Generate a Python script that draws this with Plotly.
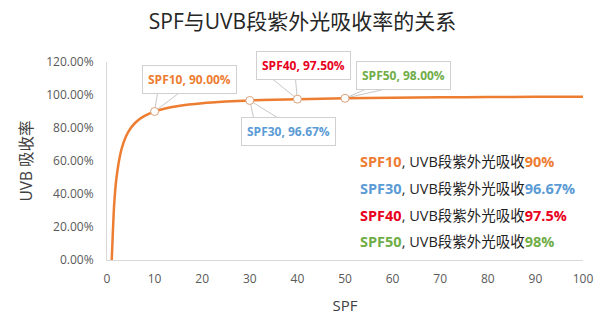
import plotly.graph_objects as go

# SPF values and the matching UVB absorption (%)
spf = [1, 1.5, 2, 3, 4, 5, 6, 7, 8, 9, 10, 12, 15, 20, 25, 30, 35, 40, 50, 60, 70, 80, 90, 100]
absorb = [0, 33.33, 50, 66.67, 75, 80, 83.33, 85.71, 87.5, 88.89, 90, 91.67, 93.33, 95,
          96, 96.67, 97.14, 97.5, 98, 98.33, 98.57, 98.75, 98.89, 99]

# highlighted points
hl_spf = [10, 30, 40, 50]
hl_val = [90.00, 96.67, 97.50, 98.00]
hl_colors = ["#ED7D31", "#5B9BD5", "#E8001C", "#70AD47"]
summary_val = ["90%", "96.67%", "97.5%", "98%"]

x_ticks = list(range(0, 101, 10))
y_ticks = [0, 20, 40, 60, 80, 100, 120]
y_tick_text = ["0.00%", "20.00%", "40.00%", "60.00%", "80.00%", "100.00%", "120.00%"]

FONT = "Open Sans, Noto Sans CJK SC"
LINE = "#ED7D31"

W, H = 605, 324
ML, MR, MT, MB = 107, 19, 62, 62
PW, PH = W - ML - MR, H - MT - MB

fig = go.Figure()
fig.add_trace(go.Scatter(
    x=spf, y=absorb, mode="lines",
    line=dict(color=LINE, width=2.5, shape="spline", smoothing=0.6),
    hoverinfo="skip", showlegend=False,
))
fig.add_trace(go.Scatter(
    x=hl_spf, y=hl_val, mode="markers",
    marker=dict(size=8, color="white", line=dict(color="#D9A27C", width=1)),
    showlegend=False,
))

# callout box offsets (pixels, y up) and the wedge pointing back to each point
box_shift = [(35, 32), (39, -31), (6, 34), (58, 23)]
wedges = [
    [(3, 19), (25, 19)],
    [(4, -18), (29, -18)],
    [(-2, 21), (-26, 21)],
    [(25, 11), (48, 11)],
]

for i, (sx, val) in enumerate(zip(hl_spf, hl_val)):
    (p1, p2) = wedges[i]
    fig.add_shape(
        type="path", xref="x", yref="y",
        xsizemode="pixel", ysizemode="pixel",
        xanchor=sx, yanchor=val,
        path=f"M 0 0 L {p1[0]} {p1[1]} L {p2[0]} {p2[1]} Z",
        line=dict(color="#C8C8C8", width=1), fillcolor="white", layer="below",
    )
    fig.add_annotation(
        x=sx, y=val, xref="x", yref="y", showarrow=False,
        xshift=box_shift[i][0], yshift=box_shift[i][1],
        text=f"<b>SPF{sx}, {val:.2f}%</b>",
        font=dict(family=FONT, size=12, color=hl_colors[i]),
        bgcolor="white", bordercolor="#D0D0D0", borderwidth=1, borderpad=5,
    )

# summary text block (pixel rows converted to plot-area fractions)
row_y = [162, 190, 217, 243]
for i, sx in enumerate(hl_spf):
    c = hl_colors[i]
    fig.add_annotation(
        x=(360 - ML) / PW, y=(H - MB - row_y[i]) / PH, xref="paper", yref="paper",
        xanchor="left", yanchor="middle", showarrow=False,
        text=(f"<b><span style='color:{c}'>SPF{sx}</span></b>"
              f"<span style='color:#1F1F1F'>, UVB段紫外光吸收</span>"
              f"<b><span style='color:{c}'>{summary_val[i]}</span></b>"),
        font=dict(family=FONT, size=14.5),
    )

fig.update_layout(
    width=W, height=H,
    margin=dict(l=ML, r=MR, t=MT, b=MB),
    paper_bgcolor="white", plot_bgcolor="white",
    font=dict(family=FONT, color="#595959", size=12),
    title=dict(text="SPF与UVB段紫外光吸收率的关系", x=0.5, xanchor="center",
               y=1 - 22 / H, yanchor="middle",
               font=dict(family=FONT, size=21, color="#262626")),
    xaxis=dict(
        range=[0, 100], tickvals=x_ticks, showgrid=False, zeroline=False,
        showline=True, linecolor="#D9D9D9", linewidth=1, ticks="",
        ticklabelstandoff=8,
        tickfont=dict(size=12, color="#595959"),
        title=dict(text="SPF", font=dict(size=15, color="#404040"), standoff=14),
    ),
    yaxis=dict(
        range=[0, 120], tickvals=y_ticks, ticktext=y_tick_text,
        showgrid=False, zeroline=False, showline=True, linecolor="#D9D9D9",
        linewidth=1, ticks="", ticklabelstandoff=10,
        tickfont=dict(size=12, color="#595959"),
        title=dict(text="UVB 吸收率", font=dict(size=15.5, color="#404040"), standoff=9),
    ),
)

fig.write_html("out.html")
